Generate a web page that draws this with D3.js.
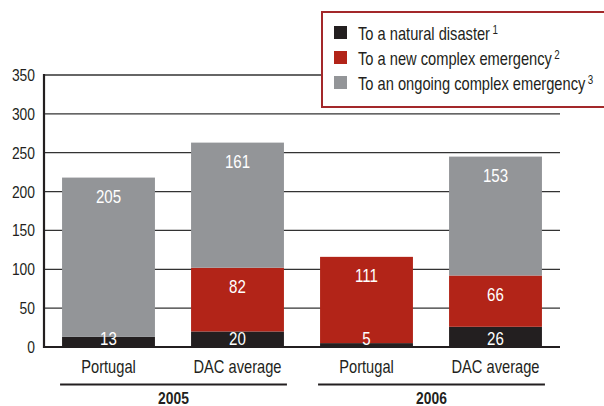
<!DOCTYPE html>
<meta charset="utf-8">
<style>
  body { margin: 0; background: #fff; }
  text { font-family: "Liberation Sans", Arial, sans-serif; fill: #231f20; }
</style>
<body>
<script src="https://d3js.org/d3.v7.min.js"></script>
<script>

// Data
const years = ["2005", "2006"];
const donors = ["Portugal", "DAC average"];
const disaster = [13, 20, 5, 26];      // To a natural disaster
const newEmerg = [0, 82, 111, 66];     // To a new complex emergency
const ongoing = [205, 161, 0, 153];    // To an ongoing complex emergency
const yTicks = [0, 50, 100, 150, 200, 250, 300, 350];
const seriesNames = ["To a natural disaster", "To a new complex emergency", "To an ongoing complex emergency"];
const seriesSup = ["1", "2", "3"];
const colors = ["#231f20", "#b22418", "#939598"];

const W = 604, H = 406;
const narrow = 0.815;   // fake a condensed face

const svg = d3.select("body").append("svg")
    .attr("width", W)
    .attr("height", H);

// condensed text helper: a scaled group holding the text
function label(parent, x, y, str, size, anchor) {
    const g = parent.append("g")
        .attr("transform", "translate(" + x + "," + y + ") scale(" + narrow + ",1)");
    return g.append("text")
        .attr("text-anchor", anchor || "start")
        .style("font-size", size + "px")
        .text(str);
}

// build rows for stacking
const rows = [];
years.forEach(function(yr, i) {
    donors.forEach(function(d, j) {
        const k = i * donors.length + j;
        rows.push({key: yr + "|" + d, year: yr, donor: d,
                   s0: disaster[k], s1: newEmerg[k], s2: ongoing[k]});
    });
});

const x = d3.scaleBand()
    .domain(rows.map(function(d) { return d.key; }))
    .range([44, 560])
    .paddingInner(0.28)
    .paddingOuter(0.14);

const y = d3.scaleLinear()
    .domain([0, 350])
    .range([347, 75]);

// gridlines
svg.append("g")
    .selectAll("line")
    .data(yTicks.slice(1))
    .enter().append("line")
    .attr("x1", 44).attr("x2", 560)
    .attr("y1", function(d) { return y(d); })
    .attr("y2", function(d) { return y(d); })
    .attr("stroke", "#333")
    .attr("stroke-width", 1.3);

// stacked bars
const stack = d3.stack().keys(["s0", "s1", "s2"]);
const layers = stack(rows);

layers.forEach(function(layer, li) {
    svg.append("g")
        .selectAll("rect")
        .data(layer)
        .enter().append("rect")
        .attr("x", function(d) { return x(d.data.key); })
        .attr("width", x.bandwidth())
        .attr("y", function(d) { return y(d[1]); })
        .attr("height", function(d) { return y(d[0]) - y(d[1]); })
        .attr("fill", colors[li]);
});

// value labels
const valG = svg.append("g");
layers.forEach(function(layer) {
    layer.forEach(function(d) {
        const v = d[1] - d[0];
        if (v <= 0) return;
        const cy = Math.min(y(d[1]) + 19, y(d[0]) - 9);
        label(valG, x(d.data.key) + x.bandwidth() / 2, cy + 6.5, v, 18.5, "middle")
            .style("fill", "#fff");
    });
});

// y axis labels
const axG = svg.append("g");
yTicks.forEach(function(t) {
    label(axG, 35, y(t) + 6, t, 17, "end");
});

svg.append("line")
    .attr("x1", 44).attr("x2", 44)
    .attr("y1", y(350) - 1).attr("y2", y(0) + 1)
    .attr("stroke", "#231f20").attr("stroke-width", 2.2);
svg.append("line")
    .attr("x1", 43).attr("x2", 560)
    .attr("y1", y(0)).attr("y2", y(0))
    .attr("stroke", "#231f20").attr("stroke-width", 2.2);

// category labels
const catG = svg.append("g");
rows.forEach(function(d) {
    label(catG, x(d.key) + x.bandwidth() / 2, 373, d.donor, 18, "middle");
});

// year groups
years.forEach(function(yr) {
    const keys = rows.filter(function(d) { return d.year === yr; }).map(function(d) { return d.key; });
    const x0 = x(keys[0]) - 2, x1 = x(keys[keys.length - 1]) + x.bandwidth() + 3;
    svg.append("line")
        .attr("x1", x0).attr("x2", x1)
        .attr("y1", 384.5).attr("y2", 384.5)
        .attr("stroke", "#231f20").attr("stroke-width", 2.2);
    label(svg, (x0 + x1) / 2, 403.5, yr, 17, "middle")
        .style("font-weight", "bold");
});

// legend
const legend = svg.append("g");
legend.append("rect")
    .attr("x", 322).attr("y", 12)
    .attr("width", 300).attr("height", 95)
    .attr("fill", "#fff")
    .attr("stroke", "#a3282a")
    .attr("stroke-width", 2);

seriesNames.forEach(function(name, i) {
    const cy = 33 + i * 25;
    legend.append("rect")
        .attr("x", 334).attr("y", cy - 7)
        .attr("width", 13).attr("height", 13)
        .attr("fill", colors[i]);
    const t = label(legend, 358, cy + 6.5, name, 18, "start");
    t.append("tspan")
        .attr("dx", 3)
        .attr("dy", -6)
        .style("font-size", "12px")
        .text(seriesSup[i]);
});

</script>
</body>
